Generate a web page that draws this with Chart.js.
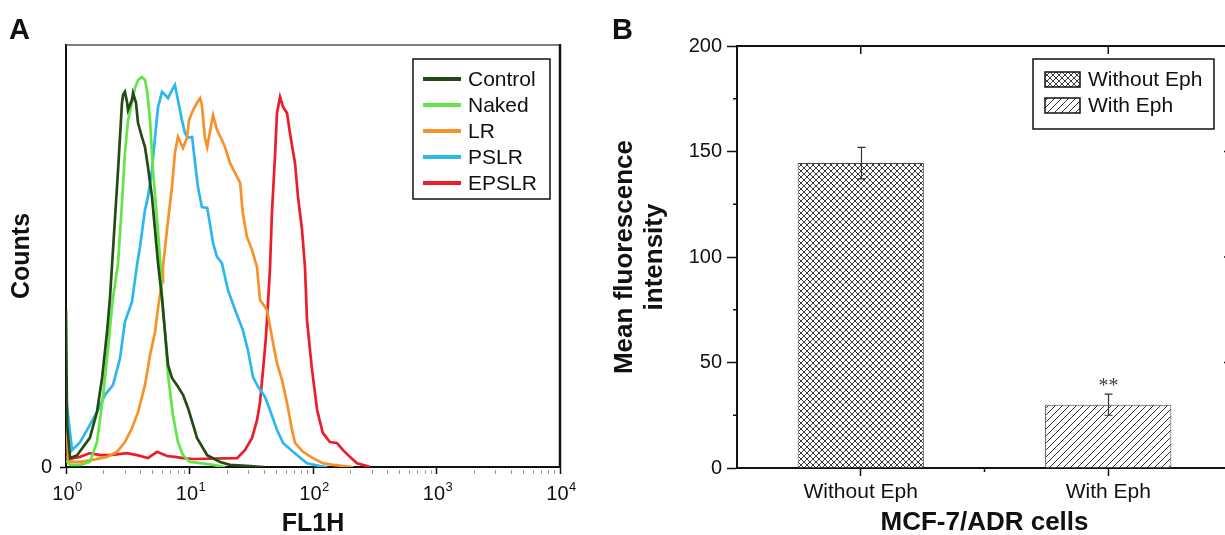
<!DOCTYPE html>
<html>
<head>
<meta charset="utf-8">
<script src="https://cdn.jsdelivr.net/npm/chart.js@4.4.1/dist/chart.umd.min.js"></script>
<style>
  html, body { margin: 0; padding: 0; background: #fff; overflow: hidden; }
  #wrapA { position: absolute; left: 0; top: 0; width: 600px; height: 535px; }
  #wrapB { position: absolute; left: 600px; top: 0; width: 640px; height: 535px; }
</style>
</head>
<body>
<div id="wrapA"><canvas id="chartA" width="600" height="535"></canvas></div>
<div id="wrapB"><canvas id="chartB" width="640" height="535"></canvas></div>
<script>
// ---- Panel A: flow cytometry histograms, points are [FL1H, counts] ----
const histLabels = ['Control', 'Naked', 'LR', 'PSLR', 'EPSLR'];
const histColors = ['#244a15', '#62e645', '#f7922a', '#2bb8ef', '#ec1c2a'];

const controlCounts = [[1.00,37],[1.02,10],[1.08,2.1],[1.23,2.8],[1.56,6.9],[1.78,13.0],[1.96,21.1],[2.15,32.0],[2.27,40.0],[2.36,47.9],[2.64,70.4],[2.84,86.3],[2.90,88.2],[3.00,88.9],[3.12,86.5],[3.18,84.6],[3.42,87.0],[3.49,88.6],[3.69,86.3],[3.83,81.5],[4.12,78.2],[4.36,75.8],[4.61,71.1],[4.97,64.0],[5.26,56.2],[5.56,48.3],[5.99,40.0],[6.33,32.0],[6.70,24.2],[7.21,21.1],[7.92,19.4],[8.86,17.1],[9.72,14.0],[10.7,10.0],[11.5,6.9],[13.9,2.8],[17.7,1.2],[21.3,0.5],[30.9,0.2],[40,0]];
const nakedCounts = [[1.00,1.5],[1.08,0.5],[1.30,0.5],[1.56,1.2],[1.78,5.9],[1.99,16.4],[2.19,28.2],[2.40,40.0],[2.64,48.3],[2.84,62.6],[3.00,74.4],[3.18,82.2],[3.42,86.3],[3.62,89.8],[3.83,91.7],[4.12,92.4],[4.36,91.7],[4.53,89.3],[4.79,82.2],[5.06,70.4],[5.46,58.5],[5.77,49.8],[5.99,40.0],[6.33,32.0],[6.70,21.8],[7.34,12.3],[8.06,5.9],[8.86,2.8],[10.1,1.2],[12.2,0.9],[15.5,0.5],[19.4,0]];
const lrCounts = [[1.00,15.4],[1.04,1.2],[1.30,1.2],[1.65,1.7],[2.15,2.4],[2.59,3.6],[3.00,5.9],[3.42,9.2],[3.83,13.0],[4.36,19.4],[4.79,26.5],[5.26,32.0],[5.56,37.7],[5.99,43.8],[6.10,47.4],[6.57,56.2],[7.21,66.4],[7.62,74.4],[8.06,78.2],[8.86,75.6],[9.54,78.0],[9.90,82.2],[10.7,84.6],[11.5,86.3],[12.2,87.4],[12.6,85.8],[13.3,78.2],[13.9,75.8],[14.9,80.6],[15.5,83.4],[16.7,79.9],[18.3,77.5],[19.4,75.8],[21.3,72.0],[23.4,69.7],[25.7,67.3],[27.0,60.2],[29.2,54.5],[32.1,51.4],[35.2,47.4],[37.2,39.6],[42.4,37.2],[46.5,30.8],[51.1,24.6],[56.1,20.6],[61.6,15.2],[67.6,8.8],[71.5,5.7],[83.0,3.6],[100,2.1],[120,0.9],[145,0.5],[211,0]];
const pslrCounts = [[1.00,16.4],[1.12,4.0],[1.30,5.9],[1.51,9.2],[1.78,13.0],[2.07,17.1],[2.40,19.4],[2.74,25.8],[3.00,34.4],[3.42,39.1],[3.76,47.9],[3.97,52.1],[4.36,60.9],[4.61,64.0],[4.97,70.4],[5.26,78.2],[5.56,85.3],[5.99,88.9],[6.33,88.2],[6.70,87.4],[7.21,89.3],[7.62,90.5],[8.06,87.0],[8.69,82.2],[9.19,79.1],[9.72,78.0],[10.5,78.2],[11.1,72.0],[11.7,66.4],[12.6,61.6],[13.9,61.4],[14.6,57.8],[15.5,53.1],[16.7,49.8],[18.3,48.3],[19.4,45.0],[20.5,41.9],[23.4,37.2],[27.0,32.5],[29.7,27.7],[32.7,21.3],[35.9,19.0],[40.9,16.6],[44.8,13.5],[51.1,8.8],[57.2,5.7],[68.9,3.6],[89.4,0.9],[114,0.2],[130,0]];
const epslrCounts = [[1.00,2.5],[1.04,1.7],[1.14,2.1],[1.30,2.4],[1.56,3.3],[1.89,2.8],[2.27,2.8],[3.12,3.3],[3.76,2.8],[4.61,2.1],[5.46,3.6],[6.57,2.6],[7.62,2.4],[8.86,2.1],[10.7,1.9],[24.3,2.1],[28.1,4.0],[32.1,6.9],[35.2,11.1],[37.2,15.2],[39.4,23.0],[41.6,30.8],[43.2,38.9],[44.8,46.7],[46.5,60.2],[49.2,73.5],[51.1,83.9],[54.1,87.7],[57.2,85.3],[61.6,83.9],[65.1,79.1],[71.5,72.0],[75.6,64.0],[81.5,56.2],[86.1,47.4],[89.4,34.8],[98.2,23.0],[108,13.5],[120,8.1],[137,5.9],[156,5.7],[175,4.0],[199,2.4],[227,0.9],[274,0.2],[290,0]];

const fl1hTickValues = [1, 10, 100, 1000, 10000];
const fl1hTickExponents = ['0', '1', '2', '3', '4'];
const minorMultipliers = [2, 3, 4, 5, 6, 7, 8, 9];

// ---- Panel B: mean fluorescence intensity ----
const mfiCategories = ['Without Eph', 'With Eph'];
const mfiValues = [144.5, 30.0];
const mfiErrors = [7.5, 5.0];
const mfiMarks = ['', '**'];
const mfiMinorTicks = [25, 75, 125, 175];
const mfiRightTicks = [50, 100, 150];

const FONT = "'Liberation Sans', Arial, sans-serif";
const INK = '#111';

// hatch patterns
function makePattern(size, cross, color) {
  const c = document.createElement('canvas');
  c.width = size; c.height = size;
  const g = c.getContext('2d');
  g.fillStyle = '#fff';
  g.fillRect(0, 0, size, size);
  g.strokeStyle = color;
  g.lineWidth = 1;
  g.beginPath();
  g.moveTo(-1, size + 1); g.lineTo(size + 1, -1);
  g.moveTo(-1, 1); g.lineTo(1, -1);
  g.moveTo(size - 1, size + 1); g.lineTo(size + 1, size - 1);
  if (cross) {
    g.moveTo(-1, -1); g.lineTo(size + 1, size + 1);
    g.moveTo(size - 1, -1); g.lineTo(size + 1, 1);
    g.moveTo(-1, size - 1); g.lineTo(1, size + 1);
  }
  g.stroke();
  return document.getElementById('chartB').getContext('2d').createPattern(c, 'repeat');
}
const crossPattern = makePattern(6, true, '#3a3a3a');
const diagPattern = makePattern(7, false, '#333');

const panelA = {
  id: 'panelA',
  afterDraw(chart) {
    const {ctx, chartArea: {left, right, top, bottom}, scales: {x}} = chart;
    ctx.save();
    // top and right frame
    ctx.strokeStyle = '#555';
    ctx.lineWidth = 1.5;
    ctx.beginPath(); ctx.moveTo(left, top); ctx.lineTo(right, top); ctx.stroke();
    ctx.strokeStyle = INK;
    ctx.lineWidth = 2.5;
    ctx.beginPath(); ctx.moveTo(right, top - 1); ctx.lineTo(right, bottom + 1); ctx.stroke();
    // minor ticks
    ctx.strokeStyle = '#999';
    ctx.lineWidth = 1;
    fl1hTickValues.slice(0, -1).forEach(d => {
      minorMultipliers.forEach(m => {
        const px = Math.round(x.getPixelForValue(d * m)) + 0.5;
        ctx.beginPath(); ctx.moveTo(px, bottom + 3); ctx.lineTo(px, bottom + 7); ctx.stroke();
      });
    });
    // decade labels 10^n
    ctx.fillStyle = INK;
    ctx.textBaseline = 'alphabetic';
    fl1hTickValues.forEach((v, i) => {
      const px = x.getPixelForValue(v);
      ctx.font = '20px ' + FONT;
      const wBase = ctx.measureText('10').width;
      ctx.font = '13px ' + FONT;
      const wExp = ctx.measureText(fl1hTickExponents[i]).width;
      const x0 = px - (wBase + wExp) / 2 + 1;
      ctx.font = '20px ' + FONT;
      ctx.textAlign = 'left';
      ctx.fillText('10', x0, bottom + 33);
      ctx.font = '13px ' + FONT;
      ctx.fillText(fl1hTickExponents[i], x0 + wBase + 0.5, bottom + 24);
    });
    // legend
    ctx.fillStyle = '#fff';
    ctx.fillRect(413, 59, 137, 140);
    ctx.strokeStyle = INK;
    ctx.lineWidth = 1.5;
    ctx.strokeRect(413, 59, 137, 140);
    ctx.font = '21px ' + FONT;
    ctx.textBaseline = 'middle';
    chart.data.datasets.forEach((ds, i) => {
      const yy = 79 + i * 26;
      ctx.strokeStyle = ds.borderColor;
      ctx.lineWidth = 4;
      ctx.beginPath(); ctx.moveTo(423, yy); ctx.lineTo(461, yy); ctx.stroke();
      ctx.fillStyle = INK;
      ctx.fillText(ds.label, 468, yy + 1);
    });
    // panel letter
    ctx.font = 'bold 29px ' + FONT;
    ctx.textBaseline = 'alphabetic';
    ctx.fillText('A', 9, 39);
    ctx.restore();
  }
};

const panelB = {
  id: 'panelB',
  afterDatasetsDraw(chart) {
    const {ctx, scales: {x, y}} = chart;
    ctx.save();
    ctx.strokeStyle = '#333';
    ctx.lineWidth = 1.2;
    mfiValues.forEach((v, i) => {
      const px = Math.round(x.getPixelForValue(i)) + 0.5;
      const t = y.getPixelForValue(v + mfiErrors[i]);
      const b = y.getPixelForValue(v - mfiErrors[i]);
      ctx.beginPath();
      ctx.moveTo(px, t); ctx.lineTo(px, b);
      ctx.moveTo(px - 4, t); ctx.lineTo(px + 4, t);
      ctx.moveTo(px - 4, b); ctx.lineTo(px + 4, b);
      ctx.stroke();
      if (mfiMarks[i]) {
        ctx.fillStyle = '#444';
        ctx.font = "20px 'Liberation Serif', 'Times New Roman', serif";
        ctx.textAlign = 'center';
        ctx.textBaseline = 'alphabetic';
        ctx.fillText(mfiMarks[i], px, t - 2);
      }
    });
    ctx.restore();
  },
  afterDraw(chart) {
    const {ctx, chartArea: {left, right, top, bottom}, scales: {x, y}} = chart;
    ctx.save();
    ctx.strokeStyle = INK;
    ctx.lineWidth = 2;
    ctx.beginPath(); ctx.moveTo(left - 1, top); ctx.lineTo(right, top); ctx.lineTo(right, bottom); ctx.stroke();
    ctx.lineWidth = 1.5;
    ctx.beginPath();
    mfiCategories.forEach((c, i) => {
      const px = x.getPixelForValue(i);
      ctx.moveTo(px, top); ctx.lineTo(px, top + 8);
    });
    const mid = x.getPixelForValue(0.5);
    ctx.moveTo(mid, bottom); ctx.lineTo(mid, bottom + 4);
    mfiMinorTicks.forEach(v => {
      const py = y.getPixelForValue(v);
      ctx.moveTo(left, py); ctx.lineTo(left - 4, py);
    });
    mfiRightTicks.forEach(v => {
      const py = y.getPixelForValue(v);
      ctx.moveTo(right, py); ctx.lineTo(right - 8, py);
    });
    ctx.stroke();
    // legend
    const fills = chart.data.datasets[0].backgroundColor;
    ctx.fillStyle = '#fff';
    ctx.fillRect(433, 59, 181, 70);
    ctx.lineWidth = 1.5;
    ctx.strokeRect(433, 59, 181, 70);
    ctx.font = '21px ' + FONT;
    ctx.textBaseline = 'middle';
    mfiCategories.forEach((c, i) => {
      const yy = 72 + i * 26;
      ctx.fillStyle = fills[i];
      ctx.fillRect(445, yy, 35, 15);
      ctx.strokeStyle = INK;
      ctx.lineWidth = 1.5;
      ctx.strokeRect(445, yy, 35, 15);
      ctx.fillStyle = INK;
      ctx.fillText(c, 488, yy + 8);
    });
    ctx.font = 'bold 29px ' + FONT;
    ctx.textBaseline = 'alphabetic';
    ctx.fillText('B', 12, 39);
    ctx.restore();
  }
};

Chart.defaults.font.family = FONT;
Chart.defaults.color = INK;

new Chart(document.getElementById('chartA'), {
  type: 'line',
  data: {
    datasets: [controlCounts, nakedCounts, lrCounts, pslrCounts, epslrCounts].map((pts, i) => ({
      label: histLabels[i],
      data: pts,
      borderColor: histColors[i],
      borderWidth: 2.7,
      pointRadius: 0,
      tension: 0,
      fill: false
    }))
  },
  options: {
    responsive: false,
    animation: false,
    layout: { padding: { top: 45, right: 40, left: 0, bottom: 0 } },
    plugins: { legend: { display: false }, tooltip: { enabled: false } },
    scales: {
      x: {
        type: 'logarithmic',
        min: 1,
        max: 10000,
        afterBuildTicks: s => { s.ticks = fl1hTickValues.map(v => ({ value: v, major: true })); },
        afterFit: s => { s.height = 68; s.paddingLeft = 0; s.paddingRight = 0; },
        ticks: { callback: () => '', maxRotation: 0, autoSkip: false },
        grid: { drawOnChartArea: false, tickLength: 7, color: INK, tickWidth: 1.5 },
        border: { color: INK, width: 2 },
        title: { display: true, text: 'FL1H', color: INK, font: { size: 25, weight: 'bold', lineHeight: 0.9 }, padding: { top: 0, bottom: 0 } },
        z: 1
      },
      y: {
        min: 0,
        max: 100,
        afterBuildTicks: s => { s.ticks = [{ value: 0 }]; },
        afterFit: s => { s.width = 66; s.paddingTop = 0; s.paddingBottom = 0; },
        ticks: { callback: () => '0', font: { size: 20 }, color: INK, padding: 8 },
        grid: { drawOnChartArea: false, tickLength: 6, color: INK, tickWidth: 1.5 },
        border: { color: INK, width: 2 },
        title: { display: true, text: 'Counts', color: INK, font: { size: 25, weight: 'bold', lineHeight: 0.9 }, padding: { top: 11, bottom: 0 } },
        z: 1
      }
    }
  },
  plugins: [panelA]
});

new Chart(document.getElementById('chartB'), {
  type: 'bar',
  data: {
    labels: mfiCategories,
    datasets: [{
      data: mfiValues,
      backgroundColor: [crossPattern, diagPattern],
      borderColor: '#444',
      borderWidth: 1,
      barPercentage: 0.51,
      categoryPercentage: 1
    }]
  },
  options: {
    responsive: false,
    animation: false,
    layout: { padding: { top: 46, right: 8, left: 0, bottom: 0 } },
    plugins: { legend: { display: false }, tooltip: { enabled: false } },
    scales: {
      x: {
        afterFit: s => { s.height = 67; s.paddingLeft = 0; s.paddingRight = 0; },
        ticks: { font: { size: 21 }, color: INK, padding: 4, maxRotation: 0 },
        grid: { offset: false, drawOnChartArea: false, tickLength: 8, color: INK, tickWidth: 1.5 },
        border: { color: INK, width: 2 },
        title: { display: true, text: 'MCF-7/ADR cells', color: INK, font: { size: 26, weight: 'bold', lineHeight: 0.9 }, padding: { top: 0, bottom: 0 } },
        z: 1
      },
      y: {
        min: 0,
        max: 200,
        afterFit: s => { s.width = 137; s.paddingTop = 0; s.paddingBottom = 0; },
        ticks: { stepSize: 50, font: { size: 20 }, color: INK, padding: 5 },
        grid: { drawOnChartArea: false, tickLength: 10, color: INK, tickWidth: 1.5 },
        border: { color: INK, width: 2 },
        title: { display: true, text: ['Mean fluorescence', 'intensity'], color: INK, font: { size: 26, weight: 'bold', lineHeight: 1.15 }, padding: { top: 10, bottom: 0 } },
        z: 1
      }
    }
  },
  plugins: [panelB]
});
</script>
</body>
</html>
